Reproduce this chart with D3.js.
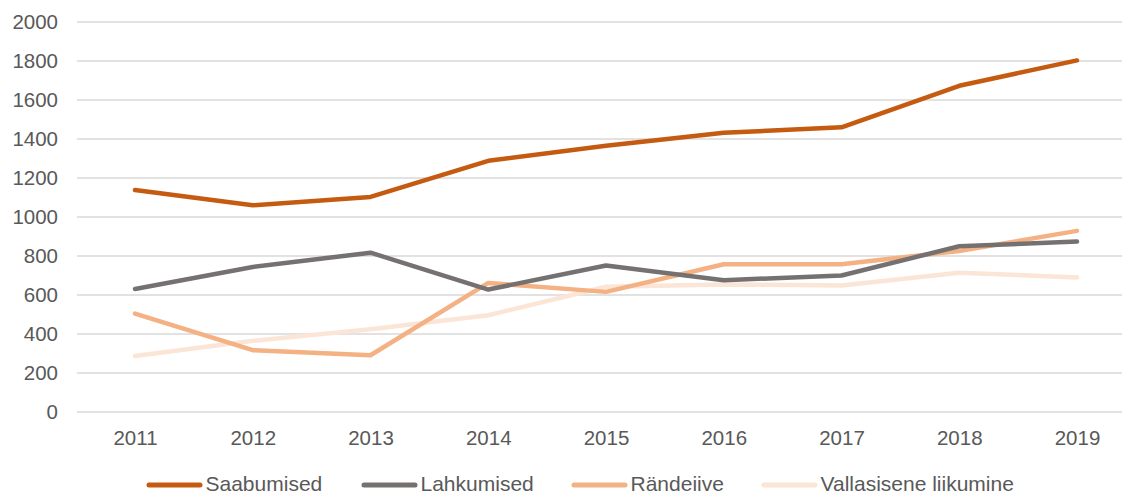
<!DOCTYPE html>
<html>
<head>
<meta charset="utf-8">
<script src="https://cdn.jsdelivr.net/npm/d3@7"></script>
<style>
  body { margin: 0; background: #fff; }
  svg { font-family: "Liberation Sans", Arial, sans-serif; }
</style>
</head>
<body>
<script>
const years = ['2011', '2012', '2013', '2014', '2015', '2016', '2017', '2018', '2019'];
const seriesNames = ['Saabumised', 'Lahkumised', 'Rändeiive', 'Vallasisene liikumine'];
const saabumised = [1138, 1060, 1103, 1288, 1365, 1432, 1460, 1673, 1803];
const lahkumised = [631, 744, 817, 628, 751, 676, 700, 850, 874];
const randeiive = [505, 317, 291, 662, 616, 758, 758, 826, 929];
const vallasisene = [287, 365, 424, 496, 642, 654, 649, 714, 690];
const yTicks = [0, 200, 400, 600, 800, 1000, 1200, 1400, 1600, 1800, 2000];

const colors = ['#c55a11', '#767171', '#f4b183', '#fbe5d6'];
const allValues = [saabumised, lahkumised, randeiive, vallasisene];

const width = 1122;
const height = 492;
const fontSize = '20.5px';

const svg = d3.select('body')
    .append('svg')
    .attr('width', width)
    .attr('height', height);

const xScale = d3.scalePoint()
    .domain(years)
    .range([135, 1077]);

const yScale = d3.scaleLinear()
    .domain([0, 2000])
    .range([412, 22]);

// grid
svg.append('g')
    .selectAll('line')
    .data(yTicks)
    .enter()
    .append('line')
    .attr('x1', 77)
    .attr('x2', 1136)
    .attr('y1', d => yScale(d))
    .attr('y2', d => yScale(d))
    .attr('stroke', '#d9d9d9')
    .attr('stroke-width', 1.3);

const yAxis = d3.axisLeft(yScale)
    .tickValues(yTicks)
    .tickFormat(d3.format('d'))
    .tickSize(0)
    .tickPadding(0);

svg.append('g')
    .attr('transform', 'translate(58, 0)')
    .call(yAxis)
    .call(g => g.select('.domain').remove())
    .selectAll('text')
    .attr('font-size', fontSize)
    .attr('fill', '#595959')
    .attr('font-family', '"Liberation Sans", Arial, sans-serif');

const xAxis = d3.axisBottom(xScale)
    .tickSize(0)
    .tickPadding(0);

svg.append('g')
    .call(xAxis)
    .call(g => g.select('.domain').remove())
    .selectAll('text')
    .attr('y', 445)
    .attr('dy', null)
    .attr('font-size', fontSize)
    .attr('fill', '#595959')
    .attr('font-family', '"Liberation Sans", Arial, sans-serif');

const line = d3.line()
    .x((d, i) => xScale(years[i]))
    .y(d => yScale(d));

// lightest first so the darker lines sit on top
[3, 2, 1, 0].forEach(k => {
    svg.append('path')
        .datum(allValues[k])
        .attr('d', line)
        .attr('fill', 'none')
        .attr('stroke', colors[k])
        .attr('stroke-width', 4.5)
        .attr('stroke-linejoin', 'round')
        .attr('stroke-linecap', 'round');
});

// legend
const legendX = [147, 362, 572, 762];
const legend = svg.append('g')
    .selectAll('g')
    .data(seriesNames)
    .enter()
    .append('g')
    .attr('transform', (d, i) => 'translate(' + legendX[i] + ', 485)');

legend.append('line')
    .attr('x1', 2)
    .attr('x2', 53)
    .attr('y1', 0)
    .attr('y2', 0)
    .attr('stroke', (d, i) => colors[i])
    .attr('stroke-width', 5)
    .attr('stroke-linecap', 'round');

legend.append('text')
    .attr('x', 58.5)
    .attr('y', 6)
    .attr('font-size', '21px')
    .attr('fill', '#595959')
    .text(d => d);
</script>
</body>
</html>
